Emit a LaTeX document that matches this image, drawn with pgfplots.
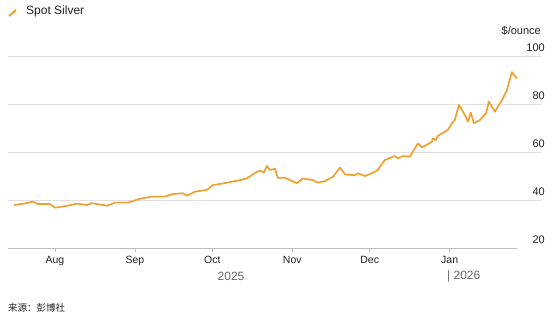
\documentclass[border=0pt]{standalone}
\usepackage{pgfplots}
\pgfplotsset{compat=1.18}
\usepackage{fontspec}
\setmainfont{Liberation Sans}
\newfontfamily\cjk{Noto Sans CJK SC}
\definecolor{silver}{HTML}{F0A030}
\definecolor{gridc}{HTML}{E0E0E0}
\definecolor{axisc}{HTML}{BDBDBD}
\definecolor{txt}{HTML}{222222}
\definecolor{yeartxt}{HTML}{666666}
\pgfplotstableread{
d v
-15.9 37.9
-12.0 38.5
-8.5 39.3
-6.6 38.3
-1.9 38.3
0.0 36.8
4.7 37.6
8.5 38.5
12.4 37.9
14.3 38.7
20.2 37.6
23.3 38.9
28.3 38.9
32.9 40.5
37.6 41.4
42.6 41.4
45.7 42.5
49.6 42.8
51.2 41.8
54.3 43.5
58.9 44.2
61.2 46.2
66.7 47.2
71.7 48.3
74.4 49.0
78.3 51.8
79.5 52.2
81.0 51.5
82.2 54.2
83.3 52.5
85.3 53.0
86.4 49.2
89.1 49.3
93.8 47.0
96.1 49.0
100.0 48.3
101.9 47.2
104.7 47.9
107.8 49.7
110.5 53.5
112.4 50.7
116.3 50.3
117.4 51.1
120.2 50.0
123.3 51.4
125.2 52.5
126.0 53.9
127.9 56.7
131.8 58.3
132.9 57.4
134.9 58.3
137.6 58.1
139.5 61.5
140.7 63.6
142.2 62.0
144.2 63.0
146.1 64.3
146.5 65.7
147.7 65.0
148.4 66.7
150.4 68.0
152.3 69.2
153.9 72.0
155.0 73.3
156.6 79.6
158.9 75.4
160.1 72.6
161.2 76.4
162.4 72.0
164.7 73.3
167.1 76.1
168.2 81.0
170.5 76.8
173.3 81.7
175.2 85.8
177.1 93.2
179.1 90.7
}\silverdata
\begin{document}
\begin{tikzpicture}[x=1pt,y=1pt]
\begin{axis}[
  at={(8pt,77pt)}, anchor=south west,
  scale only axis, width=534pt, height=192pt,
  xmin=-18.2, xmax=188.8, ymin=20, ymax=100,
  axis line style={draw=none},
  xtick={0,31,61,92,122,153},
  xticklabels={Aug,Sep,Oct,Nov,Dec,Jan},
  xtick pos=bottom, tick align=outside,
  major tick length=4pt,
  xtick style={draw=axisc, line width=0.8pt},
  xticklabel style={font=\fontsize{10.5}{12}\selectfont, text=txt, yshift=-1pt},
  ytick={40,60,80,100},
  extra y ticks={20},
  extra y tick style={grid=none},
  ytick pos=right, yticklabel pos=right,
  ytick style={draw=none},
  yticklabel style={anchor=south east, font=\fontsize{11}{13}\selectfont, text=txt, inner sep=0pt, xshift=-1pt, yshift=4pt},
  /pgf/number format/assume math mode=true,
  ymajorgrids, grid style={gridc, line width=0.9pt},
  clip=false,
]
\draw[axisc, line width=0.9pt] (axis cs:-18.2,20) -- (axis cs:179,20);
\addplot[silver, line width=1.7pt, line join=round, mark=none] table[x=d,y=v] {\silverdata};
\end{axis}
\draw[silver, line width=2pt] (9,309) -- (16,315);
\node[anchor=west, inner sep=0pt, font=\fontsize{12}{14}\selectfont, text=txt] at (26,314) {Spot Silver};
\node[anchor=east, inner sep=0pt, font=\fontsize{11}{13}\selectfont, text=txt] at (541,294) {\$/ounce};
\node[inner sep=0pt, font=\fontsize{12}{14}\selectfont, text=yeartxt] at (231,49) {2025};
\node[anchor=west, inner sep=0pt, font=\fontsize{12}{14}\selectfont, text=yeartxt] at (447,49) {| 2026};
\node[anchor=west, inner sep=0pt, font=\fontsize{9.5}{11}\cjk, text=txt] at (8,17) {来源：彭博社};
\pgfresetboundingbox
\path (0,0) rectangle (553,325);
\end{tikzpicture}
\end{document}
